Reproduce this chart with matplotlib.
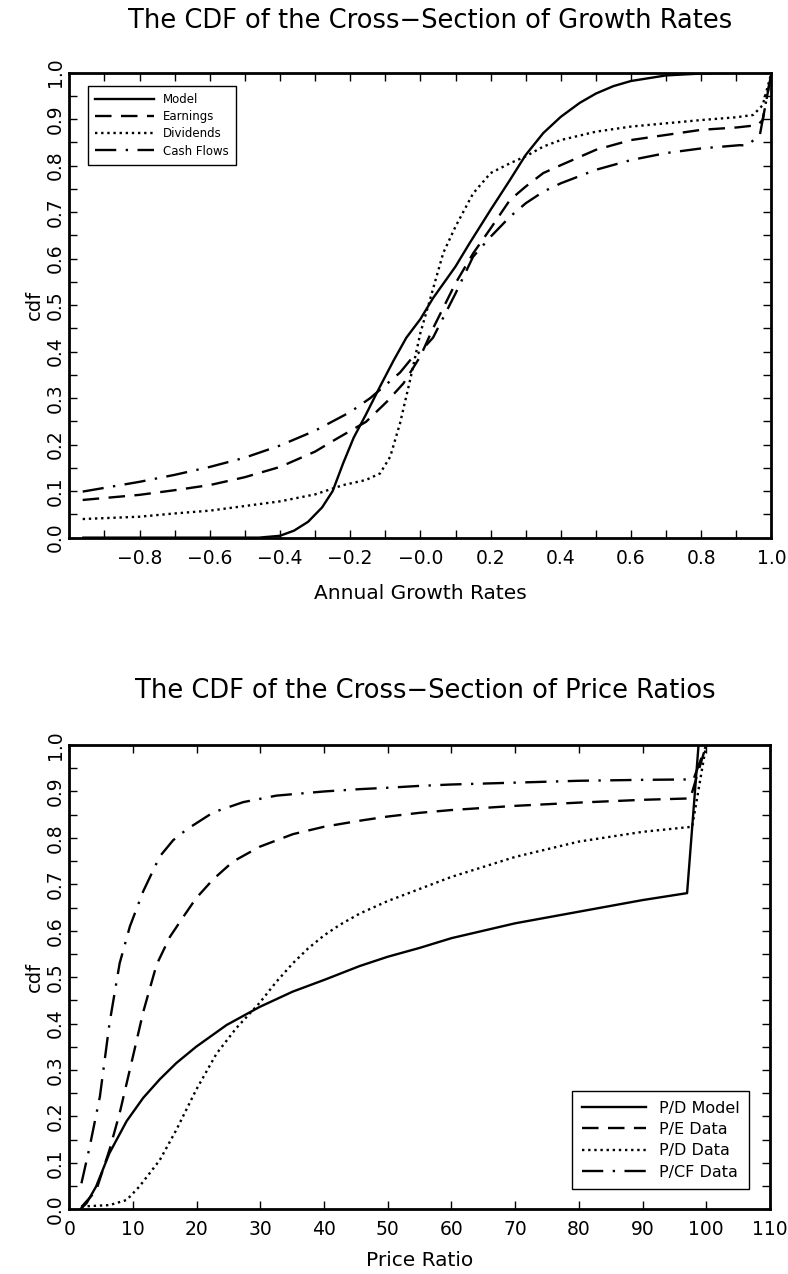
import matplotlib
matplotlib.use("Agg")
import matplotlib.pyplot as plt
import numpy as np

plt.rcParams['font.family'] = ['DejaVu Sans']

# --- top panel: growth rates ---
model_x = [-0.96, -0.6, -0.46, -0.4, -0.36, -0.32, -0.28, -0.25, -0.22, -0.19, -0.155, -0.115,
           -0.077, -0.04, 0.0, 0.036, 0.1, 0.14, 0.2, 0.255, 0.3, 0.35, 0.4, 0.454, 0.5, 0.55,
           0.6, 0.7, 0.8, 0.9, 1.0]
model_y = [0.0, 0.0, 0.0, 0.004, 0.015, 0.034, 0.065, 0.10, 0.16, 0.215, 0.265, 0.325,
           0.38, 0.43, 0.47, 0.515, 0.583, 0.633, 0.705, 0.769, 0.823, 0.87, 0.905, 0.935, 0.955,
           0.971, 0.982, 0.994, 0.998, 1.0, 1.0]

earn_x = [-0.962, -0.8, -0.7, -0.6, -0.5, -0.4, -0.3, -0.24, -0.155, -0.096, -0.048, 0.0, 0.036,
          0.1, 0.15, 0.2, 0.255, 0.3, 0.35, 0.4, 0.5, 0.6, 0.7, 0.8, 0.9, 0.96, 0.975, 1.0]
earn_y = [0.081, 0.092, 0.102, 0.113, 0.13, 0.152, 0.185, 0.212, 0.249, 0.292, 0.332, 0.39, 0.45,
          0.547, 0.611, 0.665, 0.726, 0.755, 0.784, 0.801, 0.834, 0.855, 0.866, 0.877, 0.882, 0.887,
          0.898, 1.0]

div_x = [-0.962, -0.8, -0.7, -0.6, -0.5, -0.4, -0.3, -0.22, -0.155, -0.115, -0.086, -0.058, -0.029,
         0.0, 0.027, 0.065, 0.1, 0.15, 0.2, 0.255, 0.3, 0.35, 0.4, 0.5, 0.6, 0.7, 0.8, 0.9, 0.948,
         0.975, 1.0]
div_y = [0.04, 0.045, 0.052, 0.058, 0.068, 0.078, 0.093, 0.113, 0.124, 0.138, 0.174, 0.246, 0.34,
         0.44, 0.511, 0.612, 0.669, 0.74, 0.784, 0.805, 0.82, 0.841, 0.855, 0.873, 0.884, 0.891,
         0.898, 0.904, 0.909, 0.93, 1.0]

cash_x = [-0.962, -0.8, -0.7, -0.6, -0.5, -0.4, -0.3, -0.2, -0.143, -0.115, -0.058, -0.02, 0.0,
          0.036, 0.1, 0.15, 0.2, 0.255, 0.3, 0.35, 0.4, 0.5, 0.6, 0.7, 0.8, 0.91, 0.93, 0.967, 1.0]
cash_y = [0.099, 0.12, 0.135, 0.152, 0.172, 0.198, 0.23, 0.27, 0.3, 0.318, 0.355, 0.39, 0.4,
          0.43, 0.525, 0.604, 0.647, 0.69, 0.719, 0.744, 0.762, 0.791, 0.812, 0.827, 0.837, 0.844,
          0.843, 0.866, 1.0]

# --- bottom panel: price ratios ---
pdm_x = [1.7, 2.7, 4.2, 6.3, 9.0, 11.6, 14.2, 16.8, 19.9, 24.7, 29.9, 35.1, 40, 45.6, 50, 55,
         60, 70, 80, 90, 97, 98.8]
pdm_y = [0.0, 0.013, 0.049, 0.121, 0.19, 0.24, 0.28, 0.315, 0.35, 0.397, 0.436, 0.469, 0.494,
         0.524, 0.544, 0.563, 0.584, 0.616, 0.641, 0.666, 0.681, 1.0]

pe_x = [1.9, 4.2, 6.3, 7.9, 10, 11.6, 13.7, 15.8, 17.9, 19.9, 22.6, 25.7, 29.9, 35.1, 40, 45.6,
        50, 55, 60, 70, 80, 90, 97.5, 100]
pe_y = [0.005, 0.04, 0.128, 0.207, 0.33, 0.425, 0.527, 0.587, 0.63, 0.67, 0.711, 0.749, 0.781,
        0.808, 0.824, 0.837, 0.846, 0.854, 0.86, 0.869, 0.876, 0.882, 0.885, 1.0]

pd_x = [1.9, 6.3, 9, 11, 14.2, 16.8, 19.9, 23.1, 26.2, 29.9, 32.5, 35.1, 37.5, 40, 42.5, 45.6,
        50, 55, 60, 70, 80, 90, 97.8, 100]
pd_y = [0.006, 0.009, 0.02, 0.049, 0.106, 0.171, 0.257, 0.335, 0.39, 0.445, 0.49, 0.53, 0.562,
        0.59, 0.613, 0.637, 0.664, 0.69, 0.716, 0.759, 0.792, 0.813, 0.824, 1.0]

pcf_x = [1.9, 3.2, 4.8, 6.3, 7.9, 9.5, 11.6, 14.2, 16.3, 18.4, 22.6, 27.3, 32.5, 40, 45.6, 50,
         55, 60, 70, 80, 90, 98, 100]
pcf_y = [0.056, 0.135, 0.243, 0.40, 0.53, 0.609, 0.685, 0.76, 0.795, 0.818, 0.855, 0.877, 0.891,
         0.90, 0.905, 0.908, 0.912, 0.915, 0.919, 0.923, 0.925, 0.926, 1.0]

top_xticks = [-0.8, -0.6, -0.4, -0.2, 0.0, 0.2, 0.4, 0.6, 0.8, 1.0]
top_xlabels = ['\u22120.8', '\u22120.6', '\u22120.4', '\u22120.2', '\u22120.0',
               '0.2', '0.4', '0.6', '0.8', '1.0']
bot_xticks = list(range(0, 111, 10))
yticks = [round(0.1 * i, 1) for i in range(11)]

DASH = (0, (7, 4))
DOT = (0, (1, 1.6))
DASHDOT = (0, (9, 4, 1, 4))

fig = plt.figure(figsize=(7.88, 12.74), dpi=100)
ax1 = fig.add_axes([0.088, 0.578, 0.891, 0.365])
ax2 = fig.add_axes([0.088, 0.0508, 0.889, 0.3644])


def style(ax):
    for s in ax.spines.values():
        s.set_linewidth(2)
    ax.tick_params(which='both', direction='in', length=6, width=1,
                   top=True, right=True, labelsize=13.5, colors='black')
    ax.set_ylim(0, 1)
    ax.set_yticks(yticks)
    ax.set_yticklabels([f'{v:.1f}' for v in yticks], rotation=90, va='center')
    ax.set_yticks(np.arange(0.05, 1.0, 0.1), minor=True)
    ax.tick_params(axis='y', pad=3)
    ax.tick_params(axis='x', pad=8)
    ax.set_ylabel('cdf', fontsize=14, labelpad=2)


lw = 1.7
ax1.plot(model_x, model_y, color='black', lw=lw, label='Model')
ax1.plot(earn_x, earn_y, color='black', lw=lw, linestyle=DASH, label='Earnings')
ax1.plot(div_x, div_y, color='black', lw=lw, linestyle=DOT, label='Dividends')
ax1.plot(cash_x, cash_y, color='black', lw=lw, linestyle=DASHDOT, label='Cash Flows')
style(ax1)
ax1.set_xlim(-1, 1)
ax1.set_xticks(top_xticks)
ax1.set_xticklabels(top_xlabels)
ax1.set_xticks(np.arange(-0.9, 1.0, 0.2), minor=True)
ax1.set_xlabel('Annual Growth Rates', fontsize=14.5, labelpad=12)
leg1 = ax1.legend(loc='upper left', bbox_to_anchor=(0.026, 0.971), borderaxespad=0,
                  fontsize=8.5, fancybox=False, edgecolor='black', framealpha=1,
                  handlelength=5, borderpad=0.6, labelspacing=0.35)
leg1.get_frame().set_linewidth(1)

ax2.plot(pdm_x, pdm_y, color='black', lw=lw, label='P/D Model')
ax2.plot(pe_x, pe_y, color='black', lw=lw, linestyle=DASH, label='P/E Data')
ax2.plot(pd_x, pd_y, color='black', lw=lw, linestyle=DOT, label='P/D Data')
ax2.plot(pcf_x, pcf_y, color='black', lw=lw, linestyle=DASHDOT, label='P/CF Data')
style(ax2)
ax2.set_xlim(0, 110)
ax2.set_xticks(bot_xticks)
ax2.set_xlabel('Price Ratio', fontsize=14.5, labelpad=8)
leg2 = ax2.legend(loc='lower right', bbox_to_anchor=(0.970, 0.043), borderaxespad=0,
                  fontsize=11.5, fancybox=False, edgecolor='black', framealpha=1,
                  handlelength=4, borderpad=0.6, labelspacing=0.4)
leg2.get_frame().set_linewidth(1)

fig.text(430 / 788, 1 - 21 / 1274, 'The CDF of the Cross\u2212Section of Growth Rates',
         ha='center', va='center', fontsize=18.5)
fig.text(425 / 788, 1 - 691 / 1274, 'The CDF of the Cross\u2212Section of Price Ratios',
         ha='center', va='center', fontsize=18.5)

fig.savefig('out.png', dpi=100)
